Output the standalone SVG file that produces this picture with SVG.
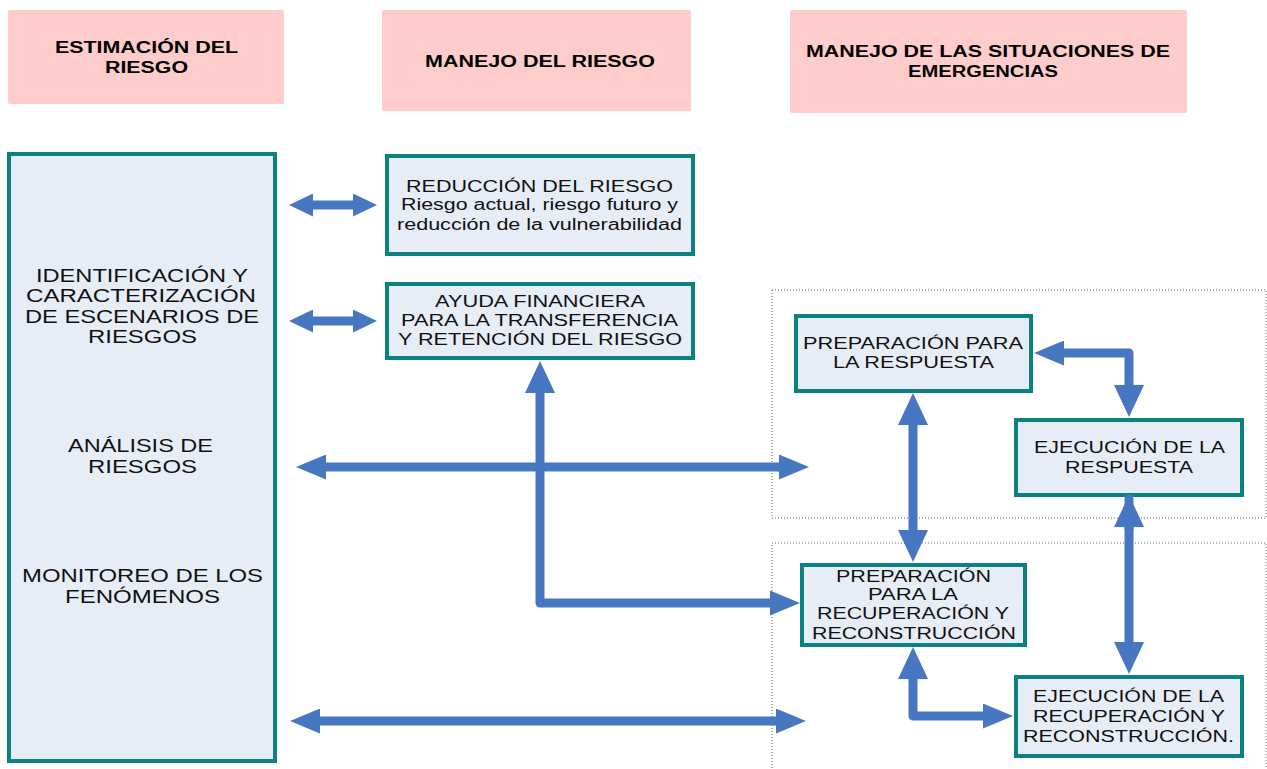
<svg xmlns="http://www.w3.org/2000/svg" width="1267" height="769" viewBox="0 0 1267 769">
<style>
.hdr{fill:#FFCCCC}
.box{fill:#E7EDF7;stroke:#0B8280;stroke-width:4}
.dot{fill:none;stroke:#666;stroke-width:1;stroke-dasharray:1 2}
.ht{font-family:"Liberation Sans",Arial,sans-serif;font-weight:bold;font-size:16px;fill:#000}
.t{font-family:"Liberation Sans",Arial,sans-serif;font-size:16px;fill:#111}
.tl{font-family:"Liberation Sans",Arial,sans-serif;font-size:18px;fill:#111}
.c{fill:none;stroke:#4877C2;stroke-width:9;stroke-linejoin:round}
.ah{fill:#4877C2}
</style>
<defs>
<marker id="a" markerUnits="userSpaceOnUse" viewBox="0 0 30 25" markerWidth="30" markerHeight="25" refX="3" refY="12.5" orient="auto-start-reverse"><path class="ah" d="M0,0 L30,12.5 L0,25 Z"/></marker>
<marker id="b" markerUnits="userSpaceOnUse" viewBox="0 0 32 30" markerWidth="32" markerHeight="30" refX="3" refY="15" orient="auto-start-reverse"><path class="ah" d="M0,0 L32,15 L0,30 Z"/></marker>
<marker id="s" markerUnits="userSpaceOnUse" viewBox="0 0 24 23" markerWidth="24" markerHeight="23" refX="3" refY="11.5" orient="auto-start-reverse"><path class="ah" d="M0,0 L24,11.5 L0,23 Z"/></marker>
</defs>

<g id="zones">
<rect class="dot" x="772" y="290" width="494" height="228"/>
<rect class="dot" x="772" y="543" width="494" height="232"/>
</g>

<g id="h1"><rect class="hdr" x="8" y="10" width="276" height="94" rx="2"/>
<text class="ht" x="55" y="53" textLength="183" lengthAdjust="spacingAndGlyphs">ESTIMACIÓN DEL</text>
<text class="ht" x="105" y="73" textLength="83" lengthAdjust="spacingAndGlyphs">RIESGO</text></g>

<g id="h2"><rect class="hdr" x="382" y="10" width="309" height="101" rx="2"/>
<text class="ht" x="425" y="67" textLength="230" lengthAdjust="spacingAndGlyphs">MANEJO DEL RIESGO</text></g>

<g id="h3"><rect class="hdr" x="790" y="10" width="397" height="103" rx="2"/>
<text class="ht" x="806" y="57" textLength="364" lengthAdjust="spacingAndGlyphs">MANEJO DE LAS SITUACIONES DE</text>
<text class="ht" x="908" y="77" textLength="150" lengthAdjust="spacingAndGlyphs">EMERGENCIAS</text></g>

<g id="estimacion"><rect class="box" x="9" y="154" width="266" height="607"/>
<text class="tl" x="36" y="282" textLength="212" lengthAdjust="spacingAndGlyphs">IDENTIFICACIÓN Y</text>
<text class="tl" x="26" y="302" textLength="230" lengthAdjust="spacingAndGlyphs">CARACTERIZACIÓN</text>
<text class="tl" x="25" y="323" textLength="234" lengthAdjust="spacingAndGlyphs">DE ESCENARIOS DE</text>
<text class="tl" x="88" y="343" textLength="109" lengthAdjust="spacingAndGlyphs">RIESGOS</text>
<text class="tl" x="68" y="452" textLength="145" lengthAdjust="spacingAndGlyphs">ANÁLISIS DE</text>
<text class="tl" x="88" y="473" textLength="109" lengthAdjust="spacingAndGlyphs">RIESGOS</text>
<text class="tl" x="22" y="582" textLength="241" lengthAdjust="spacingAndGlyphs">MONITOREO DE LOS</text>
<text class="tl" x="65" y="603" textLength="155" lengthAdjust="spacingAndGlyphs">FENÓMENOS</text></g>

<g id="reduccion"><rect class="box" x="387" y="156" width="306" height="98"/>
<text class="t" x="406" y="192" textLength="267" lengthAdjust="spacingAndGlyphs">REDUCCIÓN DEL RIESGO</text>
<text class="t" x="401" y="210" textLength="277" lengthAdjust="spacingAndGlyphs">Riesgo actual, riesgo futuro y</text>
<text class="t" x="397" y="230" textLength="285" lengthAdjust="spacingAndGlyphs">reducción de la vulnerabilidad</text></g>

<g id="ayuda"><rect class="box" x="387" y="284" width="306" height="74"/>
<text class="t" x="435" y="307" textLength="210" lengthAdjust="spacingAndGlyphs">AYUDA FINANCIERA</text>
<text class="t" x="401" y="326" textLength="277" lengthAdjust="spacingAndGlyphs">PARA LA TRANSFERENCIA</text>
<text class="t" x="398" y="345" textLength="284" lengthAdjust="spacingAndGlyphs">Y RETENCIÓN DEL RIESGO</text></g>

<g id="prep_resp"><rect class="box" x="796" y="316" width="235" height="75"/>
<text class="t" x="803" y="349" textLength="220" lengthAdjust="spacingAndGlyphs">PREPARACIÓN PARA</text>
<text class="t" x="833" y="368" textLength="161" lengthAdjust="spacingAndGlyphs">LA RESPUESTA</text></g>

<g id="ejec_resp"><rect class="box" x="1016" y="420" width="226" height="75"/>
<text class="t" x="1034" y="453" textLength="191" lengthAdjust="spacingAndGlyphs">EJECUCIÓN DE LA</text>
<text class="t" x="1065" y="473" textLength="128" lengthAdjust="spacingAndGlyphs">RESPUESTA</text></g>

<g id="prep_recup"><rect class="box" x="802" y="565" width="223" height="80"/>
<text class="t" x="836" y="582" textLength="155" lengthAdjust="spacingAndGlyphs">PREPARACIÓN</text>
<text class="t" x="868" y="600" textLength="90" lengthAdjust="spacingAndGlyphs">PARA LA</text>
<text class="t" x="817" y="619" textLength="192" lengthAdjust="spacingAndGlyphs">RECUPERACIÓN Y</text>
<text class="t" x="812" y="639" textLength="204" lengthAdjust="spacingAndGlyphs">RECONSTRUCCIÓN</text></g>

<g id="ejec_recup"><rect class="box" x="1016" y="677" width="226" height="79"/>
<text class="t" x="1033" y="702" textLength="191" lengthAdjust="spacingAndGlyphs">EJECUCIÓN DE LA</text>
<text class="t" x="1033" y="722" textLength="192" lengthAdjust="spacingAndGlyphs">RECUPERACIÓN Y</text>
<text class="t" x="1023" y="742" textLength="211" lengthAdjust="spacingAndGlyphs">RECONSTRUCCIÓN.</text></g>

<g id="connectors">
<path class="c" d="M310,205 L356,205" marker-start="url(#s)" marker-end="url(#s)"/>
<path class="c" d="M310,321 L356,321" marker-start="url(#s)" marker-end="url(#s)"/>
<path class="c" d="M323,467 L782,467" marker-start="url(#a)" marker-end="url(#a)"/>
<path class="c" d="M540,390 L540,603 L773,603" marker-start="url(#b)" marker-end="url(#a)"/>
<path class="c" d="M317,721 L779,721" marker-start="url(#a)" marker-end="url(#a)"/>
<path class="c" d="M913,422 L913,533" marker-start="url(#b)" marker-end="url(#b)"/>
<path class="c" d="M1061,353 L1129,353 L1129,388" marker-start="url(#a)" marker-end="url(#b)"/>
<path class="c" d="M1129,499 L1129,645" stroke-linecap="round" marker-end="url(#b)"/>
<path class="c" d="M1129,524 L1129,530" marker-start="url(#b)"/>
<path class="c" d="M913,676 L913,716 L986,716" marker-start="url(#b)" marker-end="url(#a)"/>
</g>
</svg>
